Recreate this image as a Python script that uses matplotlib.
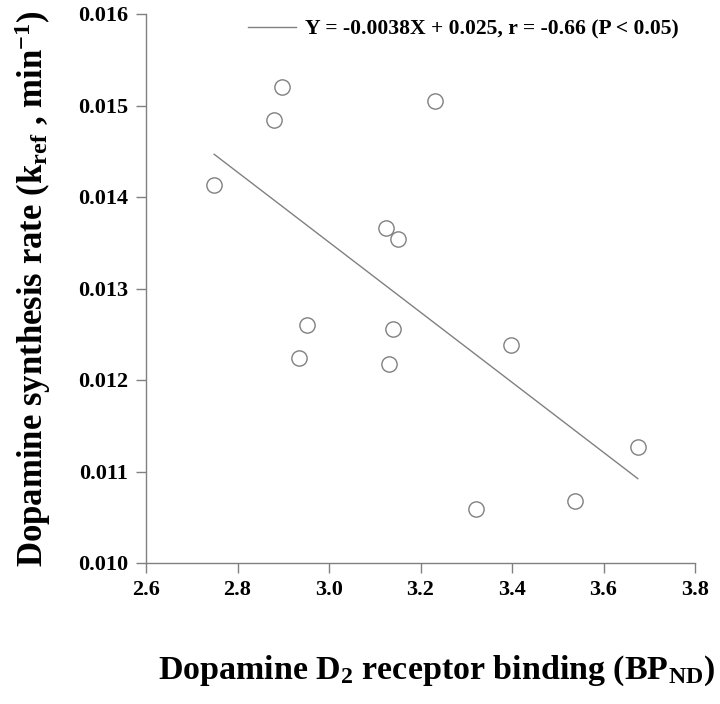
import numpy as np
import matplotlib
matplotlib.use("Agg")
import matplotlib.pyplot as plt

plt.rcParams['font.family'] = ['Liberation Serif', 'DejaVu Serif']
plt.rcParams['font.weight'] = 'bold'
plt.rcParams['mathtext.fontset'] = 'custom'
plt.rcParams['mathtext.rm'] = 'Liberation Serif:bold'
plt.rcParams['mathtext.bf'] = 'Liberation Serif:bold'
plt.rcParams['mathtext.it'] = 'Liberation Serif:bold:italic'

# Data
bp_nd = [2.749, 2.880, 2.897, 3.232, 3.124, 3.151, 2.953, 3.139,
         2.934, 3.131, 3.398, 3.675, 3.538, 3.321]
k_ref = [0.01413, 0.014842, 0.015202, 0.015049, 0.013665, 0.013544, 0.012601, 0.012557,
         0.012237, 0.012172, 0.012383, 0.011271, 0.010678, 0.010587]
fit_slope = -0.003828
fit_intercept = 0.02499
legend_label = "Y = -0.0038X + 0.025, r = -0.66 (P < 0.05)"
x_ticks = [2.6, 2.8, 3.0, 3.2, 3.4, 3.6, 3.8]
y_ticks = [0.010, 0.011, 0.012, 0.013, 0.014, 0.015, 0.016]

gray = '#808080'

fig = plt.figure(figsize=(7.2, 7.04), dpi=100)
ax = fig.add_axes([146/720, 1-563/704, (695-146)/720, (563-14)/704])

xs = np.array([min(bp_nd), max(bp_nd)])
line, = ax.plot(xs, fit_slope*xs + fit_intercept, color=gray, lw=1.0, label=legend_label)
ax.plot(bp_nd, k_ref, linestyle='none', marker='o', ms=11, mfc='white',
        mec=gray, mew=1.0, clip_on=False)

ax.set_xlim(2.6, 3.8)
ax.set_ylim(0.010, 0.016)
ax.set_xticks(x_ticks)
ax.set_xticklabels([f"{v:.1f}" for v in x_ticks])
ax.set_yticks(y_ticks)
ax.set_yticklabels([f"{v:.3f}" for v in y_ticks])

for s in ['top', 'right']:
    ax.spines[s].set_visible(False)
for s in ['left', 'bottom']:
    ax.spines[s].set_color(gray)
    ax.spines[s].set_linewidth(1.0)
ax.tick_params(direction='out', length=7, width=1.0, color=gray,
               labelsize=16)
ax.tick_params(axis='y', pad=6)
ax.tick_params(axis='x', pad=5)
for lab in ax.get_xticklabels() + ax.get_yticklabels():
    lab.set_fontweight('bold')

ax.set_xlabel(r"Dopamine D$_{2}$ receptor binding (BP$_{\mathrm{ND}}$)",
              fontsize=24.5, fontweight='bold')
ax.xaxis.set_label_coords(0.529, -0.165)
ax.set_ylabel(r"Dopamine synthesis rate (k$_{\mathrm{ref}}$ , min$^{-1}$)",
              fontsize=25, fontweight='bold')
ax.yaxis.set_label_coords(-0.17, 0.5)

leg = ax.legend(handles=[line], loc='center left',
                bbox_to_anchor=(248/720, 1-29/704), bbox_transform=fig.transFigure,
                frameon=False, borderpad=0, borderaxespad=0,
                handlelength=2.2, handletextpad=0.45,
                prop={'family': 'Liberation Serif', 'weight': 'bold', 'size': 15.6})

fig.savefig("out.png", dpi=100)
